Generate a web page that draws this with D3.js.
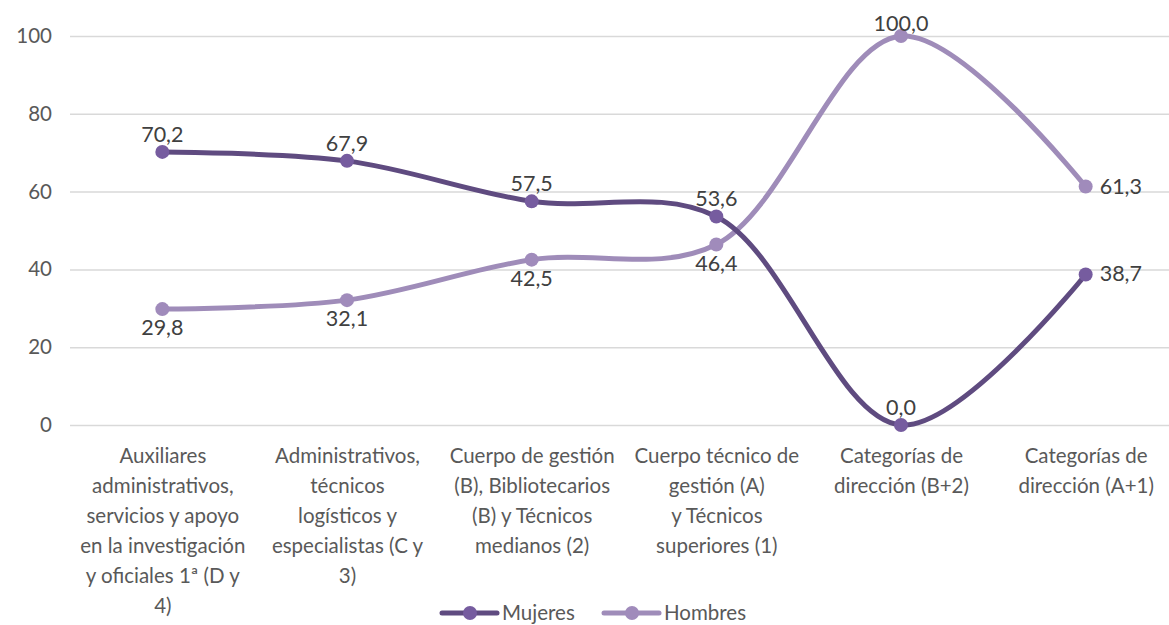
<!DOCTYPE html>
<html><head><meta charset="utf-8">
<script src="https://cdn.jsdelivr.net/npm/d3@7"></script>
<style>
html,body{margin:0;padding:0;background:#fff;}
svg{display:block;font-family:Lato, "Open Sans", sans-serif;}
</style></head>
<body>
<svg id="chart" width="1169" height="625"></svg>
<script>
const categories = [
  "Auxiliares\nadministrativos,\nservicios y apoyo\nen la investigación\ny oficiales 1ª (D y\n4)",
  "Administrativos,\ntécnicos\nlogísticos y\nespecialistas (C y\n3)",
  "Cuerpo de gestión\n(B), Bibliotecarios\n(B) y Técnicos\nmedianos (2)",
  "Cuerpo técnico de\ngestión (A)\ny Técnicos\nsuperiores (1)",
  "Categorías de\ndirección (B+2)",
  "Categorías de\ndirección (A+1)"
];
const mujeres = [70.2, 67.9, 57.5, 53.6, 0.0, 38.7];
const hombres = [29.8, 32.1, 42.5, 46.4, 100.0, 61.3];
const yTicks = [0, 20, 40, 60, 80, 100];
const seriesNames = ["Mujeres", "Hombres"];
// label placement per point: a = above, b = below, r = right
const mujeresLabelPos = ["a","a","a","a","a","r"];
const hombresLabelPos = ["b","b","b","b","a","r"];

const FS = "20.5px";
const FSL = "21.5px";
const svg = d3.select("#chart");
const x = d3.scalePoint().domain(categories).range([70, 1178]).padding(0.5);
const y = d3.scaleLinear().domain([0, 100]).range([425, 36]);

const fmt = v => v.toFixed(1).replace(".", ",");

// gridlines
const yAxis = d3.axisLeft(y).tickValues(yTicks).tickSize(-1108).tickPadding(18).tickFormat(d3.format("d"));
const gy = svg.append("g").attr("transform", "translate(70,0)").call(yAxis);
gy.select(".domain").remove();
gy.selectAll(".tick line").attr("stroke", "#d9d9d9").attr("stroke-width", 1.5);
gy.selectAll(".tick text").attr("fill", "#595959").style("font-size", FS).attr("font-family", "Lato, sans-serif");

// x category labels
const xAxis = d3.axisBottom(x).tickSize(0).tickFormat("");
const gx = svg.append("g").attr("transform", "translate(0,425)").call(xAxis);
gx.select(".domain").remove();
gx.selectAll(".tick").each(function(d) {
  const lines = d.split("\n");
  const t = d3.select(this).append("text")
    .attr("text-anchor", "middle").attr("fill", "#595959")
    .style("font-size", FS).attr("font-family", "Lato, sans-serif");
  lines.forEach((ln, i) => {
    t.append("tspan").attr("x", 0).attr("y", 38 + i * 30).text(ln);
  });
});

const colors = {Mujeres: {line: "#5f4b80", dot: "#765c9f"}, Hombres: {line: "#9f8cb9", dot: "#a08bbb"}};
const line = d3.line().x((d, i) => x(categories[i])).y(d => y(d)).curve(d3.curveCatmullRom.alpha(0.5));

function drawSeries(name, vals) {
  const c = colors[name];
  const g = svg.append("g");
  g.append("path").datum(vals).attr("d", line).attr("fill", "none")
    .attr("stroke", c.line).attr("stroke-width", 5).attr("stroke-linecap", "round");
  g.selectAll("circle").data(vals).join("circle")
    .attr("cx", (d, i) => x(categories[i])).attr("cy", d => y(d)).attr("r", 7).attr("fill", c.dot);
  return g;
}
function drawLabels(vals, pos) {
  const g = svg.append("g");
  g.selectAll("text").data(vals).join("text")
    .attr("x", (d, i) => x(categories[i]) + (pos[i] === "r" ? 14 : 0))
    .attr("y", (d, i) => pos[i] === "a" ? Math.max(y(d) - 10, 31) : y(d) + (pos[i] === "b" ? 26 : 7))
    .attr("text-anchor", (d, i) => pos[i] === "r" ? "start" : "middle")
    .attr("fill", "#404040").style("font-size", FSL).attr("font-family", "Lato, sans-serif")
    .text(d => fmt(d));
}
drawSeries("Hombres", hombres);
drawSeries("Mujeres", mujeres);
drawLabels(mujeres, mujeresLabelPos);
drawLabels(hombres, hombresLabelPos);

// legend
const legend = svg.append("g").attr("transform", "translate(0,613)");
const legItems = [{name: seriesNames[0], x0: 442}, {name: seriesNames[1], x0: 604}];
legItems.forEach(it => {
  const c = colors[it.name];
  legend.append("line").attr("x1", it.x0).attr("x2", it.x0 + 55).attr("y1", 0).attr("y2", 0)
    .attr("stroke", c.line).attr("stroke-width", 5).attr("stroke-linecap", "round");
  legend.append("circle").attr("cx", it.x0 + 28).attr("cy", 0).attr("r", 7).attr("fill", c.dot);
  legend.append("text").attr("x", it.x0 + 60).attr("y", 7).attr("fill", "#595959")
    .style("font-size", FS).attr("font-family", "Lato, sans-serif").text(it.name);
});
</script>
</body></html>
